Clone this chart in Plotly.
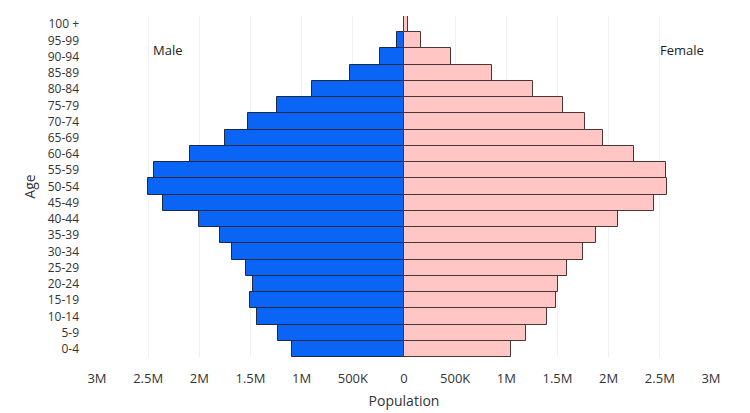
import plotly.graph_objects as go

age_groups = ["0-4", "5-9", "10-14", "15-19", "20-24", "25-29", "30-34", "35-39",
              "40-44", "45-49", "50-54", "55-59", "60-64", "65-69", "70-74",
              "75-79", "80-84", "85-89", "90-94", "95-99", "100 +"]
male = [1090000, 1230000, 1436000, 1505000, 1480000, 1540000, 1684000, 1796000,
        2005000, 2355000, 2500000, 2440000, 2090000, 1747000, 1520000,
        1243000, 900000, 530000, 230000, 67000, 4000]
female = [1045000, 1190000, 1400000, 1490000, 1500000, 1590000, 1745000, 1880000,
          2090000, 2440000, 2570000, 2560000, 2250000, 1940000, 1770000,
          1550000, 1260000, 860000, 460000, 165000, 35000]

tick_vals = [-3e6, -2.5e6, -2e6, -1.5e6, -1e6, -5e5, 0, 5e5, 1e6, 1.5e6, 2e6, 2.5e6, 3e6]
tick_text = ["3M", "2.5M", "2M", "1.5M", "1M", "500K", "0", "500K", "1M", "1.5M", "2M", "2.5M", "3M"]

font_family = "Open Sans, DejaVu Sans, sans-serif"
text_color = "#333333"

fig = go.Figure()
fig.add_trace(go.Bar(
    y=age_groups, x=[-v for v in male], orientation="h", name="Male",
    marker=dict(color="#0a64f5", line=dict(color="#1c2a48", width=1)),
    customdata=male, hovertemplate="%{y}: %{customdata}<extra>Male</extra>",
))
fig.add_trace(go.Bar(
    y=age_groups, x=female, orientation="h", name="Female",
    marker=dict(color="#ffc6c4", line=dict(color="#4a3636", width=1)),
    hovertemplate="%{y}: %{x}<extra>Female</extra>",
))

fig.update_layout(
    width=750, height=413,
    margin=dict(l=89, r=47, t=8, b=64),
    barmode="relative", bargap=0,
    showlegend=False,
    plot_bgcolor="white", paper_bgcolor="white",
    font=dict(family=font_family, size=12, color=text_color),
    xaxis=dict(
        range=[-3e6, 3e6], tickvals=tick_vals, ticktext=tick_text,
        showgrid=True, gridcolor="#f0f0f0", gridwidth=1, zeroline=False,
        ticks="", ticklabelstandoff=12, automargin=False,
        tickfont=dict(size=13),
        title=dict(text="Population", font=dict(size=14), standoff=10),
    ),
    yaxis=dict(
        categoryorder="array", categoryarray=age_groups,
        showgrid=False, zeroline=False, ticks="", ticklabelstandoff=17,
        automargin=False,
        title=dict(text="Age", font=dict(size=14), standoff=8),
    ),
    annotations=[
        dict(text="Male", x=0.116, y=0.900, xref="paper", yref="paper",
             xanchor="center", yanchor="middle",
             showarrow=False, font=dict(size=13, color="#222222")),
        dict(text="Female", x=0.953, y=0.900, xref="paper", yref="paper",
             xanchor="center", yanchor="middle",
             showarrow=False, font=dict(size=13, color="#222222")),
    ],
)

fig.write_html("out.html")
